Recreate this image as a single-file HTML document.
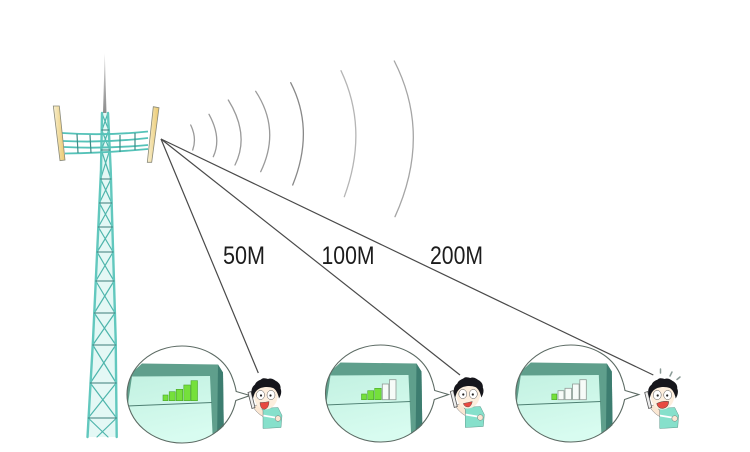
<!DOCTYPE html>
<html>
<head>
<meta charset="utf-8">
<style>
html,body{margin:0;padding:0;background:#fff;width:750px;height:452px;overflow:hidden}
svg{display:block}
text{font-family:"Liberation Sans",sans-serif;font-size:25px;fill:#1c1c1c}
</style>
</head>
<body>
<svg width="750" height="452" viewBox="0 0 750 452" xmlns="http://www.w3.org/2000/svg">
<defs>
<filter id="soft" x="-5%" y="-5%" width="110%" height="110%"><feGaussianBlur stdDeviation="0.35"/></filter>
<clipPath id="cp"><ellipse cx="0" cy="0" rx="55" ry="48.5"/></clipPath>
<linearGradient id="mint" x1="0" y1="0" x2="0.3" y2="1">
<stop offset="0" stop-color="#c2f1e1"/><stop offset="1" stop-color="#d8fcf0"/>
</linearGradient>
<linearGradient id="mast" x1="0" y1="0" x2="0" y2="1">
<stop offset="0" stop-color="#d5d5d5"/><stop offset="1" stop-color="#8c8c8c"/>
</linearGradient>
<linearGradient id="tan" x1="0" y1="0" x2="1" y2="0">
<stop offset="0" stop-color="#f7efd0"/><stop offset="1" stop-color="#ecc96e"/>
</linearGradient>
<g id="screen">
<ellipse cx="0" cy="0" rx="55" ry="48.5" fill="#fff"/>
<g clip-path="url(#cp)">
<polygon points="-62,-11 -40,-31 36,-30 41,-22 42,50 -62,50" fill="#5f9f8c"/>
<polygon points="36,-30 41,-22 42,50 35,50" fill="#3c7d6f"/>
<polygon points="-50,-18 28,-18.5 31,50 -60,50" fill="url(#mint)"/>
<line x1="-55" y1="11.5" x2="30" y2="8" stroke="#4e7f72" stroke-width="0.9"/>
</g>
<path d="M49,-20 C51.5,-14 53.4,-8 54.2,-3 L68,1 L53.8,6 C49,30 28,48.5 0,48.5 C-30,48.5 -55,27 -55,0 C-55,-27 -30,-48.5 0,-48.5 C22,-48.5 41,-37 49,-20 Z" fill="none" stroke="#5c6b64" stroke-width="1.1"/>
</g>
<g id="b1"><rect x="-19" y="0.5" width="5" height="5.7"/></g>
<g id="b2"><rect x="-12.800" y="-2.8" width="6" height="9"/></g>
<g id="b3"><rect x="-5.8" y="-5.2" width="6.500" height="11.4"/></g>
<g id="b4"><rect x="1.800" y="-9.5" width="6.500" height="15.7"/></g>
<g id="b5"><rect x="9" y="-13.8" width="6.500" height="20"/></g>
<g id="person">
<!-- shirt -->
<path d="M-4,13 L12,12 L16,20 L15,32 L-3,33 L-3,22 Z" fill="#86e0cb" stroke="#5f9a8d" stroke-width="0.500"/>
<path d="M-3,20 L9,22" stroke="#fff" stroke-width="1.800"/>
<!-- arm + hand -->
<path d="M-13,11 C-11,15 -7,19 -3,21 L-3,15 L-8,9 Z" fill="#fbe7d3" stroke="#777" stroke-width="0.500"/>
<circle cx="12" cy="23" r="2.800" fill="#fbe7d3" stroke="#777" stroke-width="0.500"/>
<!-- phone -->
<path d="M-18,-3 L-15,-4 L-11,12 L-14,13 Z" fill="#eee" stroke="#555" stroke-width="0.800"/>
<!-- face -->
<path d="M-12,-4 C-13,6 -8,14 -1,14 C7,14 12,7 12,-2 C12,-10 -11,-12 -12,-4 Z" fill="#fdeedd"/>
<!-- hair -->
<path d="M-13,3 C-15.500,-3 -15,-8 -11,-11 C-10,-14 -7,-15 -5,-16 C-3,-18 0,-17 2,-16.500 C5,-18 8,-16 10,-14.500 C13,-13 15,-10 14.500,-7 C16,-4 15,0 13,3 C12,-2 10,-6 7,-7.500 C3,-9 -4,-9 -8,-6 C-11,-4 -12,-1 -13,3 Z" fill="#16181a"/>
<!-- eyes -->
<ellipse cx="-5.500" cy="-0.500" rx="4" ry="4.600" fill="#fff" stroke="#555" stroke-width="0.500"/>
<ellipse cx="5" cy="-0.500" rx="4" ry="4.600" fill="#fff" stroke="#555" stroke-width="0.500"/>
<circle cx="-5" cy="0" r="1.100" fill="#222"/>
<circle cx="4.500" cy="0" r="1.100" fill="#222"/>
</g>
</defs>

<rect width="750" height="452" fill="#fff"/>

<g filter="url(#soft)">
<!-- wave arcs -->
<g fill="none" stroke="#9a9a9a" stroke-width="1.300" stroke-linecap="round">
<path d="M190.700,125 Q197,138 192.700,150"/>
<path d="M209,114.300 Q222,138 213.300,156.700"/>
<path d="M228.300,100 Q250,135 235,165"/>
<path d="M255.700,91.300 Q281,130 260.700,171.700"/>
<path d="M290.700,82.700 Q315,130 292.700,185" stroke="#888"/>
<path d="M341,70.700 Q369,130 344.300,196.700" stroke="#b5b5b5"/>
<path d="M394.300,61 Q432,135 395,216.700" stroke="#a5a5a5"/>
</g>

<!-- tower -->
<polygon points="104.800,53 103,113 106.500,113" fill="url(#mast)"/>
<polygon points="102,113 101,170 93,340 87.500,437 116.700,437 115.700,340 110.700,170 108,113" fill="#e4f8f5"/>
<g fill="none" stroke-linecap="round">
<g stroke="#4fb5ac" stroke-width="1.200">
<path d="M102,113 L101.700,130 M108,113 L108.800,130 M101.700,113 L108.800,130 M108,113 L102,130"/>
<path d="M101.700,130 L109.700,150 M108.800,130 L101.300,150"/>
<path d="M101.300,150 L111,179 M109.700,150 L100.600,179"/>
<path d="M100.600,179 L111.700,203 M111,179 L99.400,203"/>
<path d="M99.400,203 L112.400,227 M111.700,203 L98.300,227"/>
<path d="M98.300,227 L113.100,252 M112.400,227 L97.100,252"/>
<path d="M97.100,252 L114,281 M113.100,252 L95.800,281"/>
<path d="M95.800,281 L114.900,313 M114,281 L94.300,313"/>
<path d="M94.300,313 L115.800,345 M114.900,313 L92.800,345"/>
<path d="M92.800,345 L116.200,383 M115.800,345 L90.300,383"/>
<path d="M90.300,383 L116.500,418 M116.200,383 L88.200,418"/>
<path d="M88.200,418 L108,437 M116.500,418 L97,437"/>
</g>
<path d="M102,113 L101,170 L93,340 L87.500,437" stroke="#62c8be" stroke-width="2.400"/>
<path d="M108,113 L110.700,170 L115.700,340 L116.700,437" stroke="#62c8be" stroke-width="2.400"/>
<path d="M101.700,130H108.800 M101.300,150H109.700 M100.600,179H111 M99.400,203H111.700 M98.300,227H112.400 M97.100,252H113.100 M95.800,281H114 M94.300,313H114.900 M92.800,345H115.800 M90.300,383H116.200 M88.200,418H116.500" stroke="#3a7d79" stroke-width="1"/>
</g>

<!-- antenna mesh -->
<g fill="none">
<path d="M62,133 Q105,136 148,131.500 M63,141 Q105,143 148,138 M64,147 Q105,149 148,145 M65,153.500 Q105,153 148,149" stroke="#55c2b8" stroke-width="1.800"/>
<path d="M77,134 L78,153 M90,135 L91,153 M120,135 L120,152 M135,133 L135,150" stroke="#3c8c86" stroke-width="1.200"/>
</g>
<polygon points="53.300,106 59.300,106 65,160 60,160.700" fill="url(#tan)" stroke="#8a8a7a" stroke-width="0.800"/>
<polygon points="153.300,106.700 159,107.700 151.700,162.300 147.300,162.300" fill="url(#tan)" stroke="#8a8a7a" stroke-width="0.800"/>

<!-- connector lines -->
<g stroke="#4a4a4a" stroke-width="1.200" fill="none">
<path d="M161,139 L258.300,373"/>
<path d="M161,139 L460,375"/>
<path d="M161,139 L653.300,375"/>
</g>

<!-- labels -->
<text x="223" y="264" textLength="42" lengthAdjust="spacingAndGlyphs">50M</text>
<text x="321.500" y="264" textLength="53" lengthAdjust="spacingAndGlyphs">100M</text>
<text x="430" y="264" textLength="53" lengthAdjust="spacingAndGlyphs">200M</text>

<!-- panel 1 -->
<g transform="translate(182,394.500)">
<use href="#screen"/>
<g fill="#74e03a" stroke="#4aa52a" stroke-width="0.600">
<use href="#b1"/><use href="#b2"/><use href="#b3"/><use href="#b4"/><use href="#b5"/>
</g>
</g>
<g transform="translate(266,395.500)">
<use href="#person"/>
<path d="M-6,7 Q0,7 3,6 Q3,13 -2,14 Q-6,13 -6,7 Z" fill="#e8493f" stroke="#444" stroke-width="0.400"/>
</g>

<!-- panel 2 -->
<g transform="translate(380.500,393.500)">
<use href="#screen"/>
<g fill="#74e03a" stroke="#4aa52a" stroke-width="0.600">
<use href="#b1"/><use href="#b2"/><use href="#b3"/>
</g>
<g fill="#f6fbf8" stroke="#8f9a94" stroke-width="0.800">
<use href="#b4"/><use href="#b5"/>
</g>
</g>
<g transform="translate(468.300,394.500)">
<use href="#person"/>
<path d="M-5,9 Q0,8 4,7 Q3,12 0,12.500 Q-4,12.500 -5,9 Z" fill="#e8493f" stroke="#444" stroke-width="0.400"/>
</g>

<!-- panel 3 -->
<g transform="translate(570.800,393.500)">
<use href="#screen"/>
<g fill="#74e03a" stroke="#4aa52a" stroke-width="0.600">
<use href="#b1"/>
</g>
<g fill="#f6fbf8" stroke="#8f9a94" stroke-width="0.800">
<use href="#b2"/><use href="#b3"/><use href="#b4"/><use href="#b5"/>
</g>
</g>
<g transform="translate(662.700,395.500)">
<use href="#person"/>
<path d="M-6,8 Q0,5 6,6 Q6,12 0,13 Q-5,13 -6,8 Z" fill="#e8493f" stroke="#444" stroke-width="0.500"/>
</g>
<g fill="none" stroke="#8a9a96" stroke-width="1.500" stroke-linecap="round">
<path d="M660.500,369 L660.500,373"/>
<path d="M672,372 L670,376"/>
<path d="M680,377 L677,379.500"/>
</g>
</g>
</svg>
</body>
</html>
